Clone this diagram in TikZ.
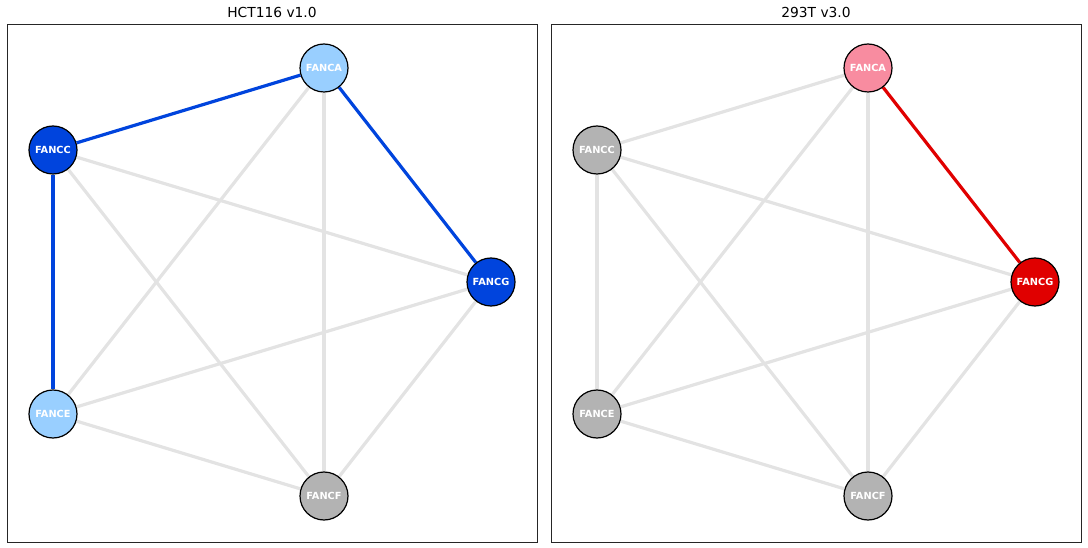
\documentclass[tikz,border=0pt]{standalone}
\usepackage{fontspec}
\setmainfont{DejaVu Sans}
\definecolor{lblue}{HTML}{99CFFF}
\definecolor{dblue}{HTML}{0044DD}
\definecolor{ngray}{HTML}{B3B3B3}
\definecolor{egray}{HTML}{E3E3E3}
\definecolor{lpink}{HTML}{F88CA0}
\definecolor{dred}{HTML}{E00000}
\pgfdeclarelayer{bg}
\pgfsetlayers{bg,main}
\tikzset{
  gene/.style={circle, draw=black, line width=1.2pt, minimum size=48pt, inner sep=0pt,
    text=white, font=\fontsize{9.8}{10}\selectfont\bfseries},
  bgedge/.style={egray, line width=3.2pt},
  blueedge/.style={dblue, line width=3.2pt},
  rededge/.style={dred, line width=3.2pt},
  frame/.style={draw=black!85, line width=0.8pt},
  ttl/.style={font=\fontsize{13.8}{15}\selectfont, anchor=base}
}
\begin{document}
\begin{tikzpicture}[x=1pt,y=-1pt]
\useasboundingbox (0,0) rectangle (1088,548);
% titles
\node[ttl] (t1) at (272,18) {HCT116 v1.0};
\node[ttl] (t2) at (816,18) {293T v3.0};
% frames
\draw[frame] (7,24) rectangle (537,542);
\draw[frame] (551,24) rectangle (1081,542);
% panel 1 nodes
\node[gene, fill=lblue] (a1) at (324,68) {FANCA};
\node[gene, fill=dblue] (c1) at (53,150) {FANCC};
\node[gene, fill=dblue] (g1) at (491,282) {FANCG};
\node[gene, fill=lblue] (e1) at (53,414) {FANCE};
\node[gene, fill=ngray] (f1) at (324,496) {FANCF};
% panel 2 nodes
\node[gene, fill=lpink] (a2) at (868,68) {FANCA};
\node[gene, fill=ngray] (c2) at (597,150) {FANCC};
\node[gene, fill=dred] (g2) at (1035,282) {FANCG};
\node[gene, fill=ngray] (e2) at (597,414) {FANCE};
\node[gene, fill=ngray] (f2) at (868,496) {FANCF};
\begin{pgfonlayer}{bg}
  \draw[bgedge] (a1) -- (e1);
  \draw[bgedge] (a1) -- (f1);
  \draw[bgedge] (c1) -- (g1);
  \draw[bgedge] (c1) -- (f1);
  \draw[bgedge] (e1) -- (g1);
  \draw[bgedge] (e1) -- (f1);
  \draw[bgedge] (g1) -- (f1);
  \draw[blueedge] (a1) -- (c1);
  \draw[blueedge] (a1) -- (g1);
  \draw[blueedge] (c1) -- (e1);
  \draw[bgedge] (a2) -- (c2);
  \draw[bgedge] (a2) -- (e2);
  \draw[bgedge] (a2) -- (f2);
  \draw[bgedge] (c2) -- (g2);
  \draw[bgedge] (c2) -- (e2);
  \draw[bgedge] (c2) -- (f2);
  \draw[bgedge] (e2) -- (g2);
  \draw[bgedge] (e2) -- (f2);
  \draw[bgedge] (g2) -- (f2);
  \draw[rededge] (a2) -- (g2);
\end{pgfonlayer}
\end{tikzpicture}
\end{document}
